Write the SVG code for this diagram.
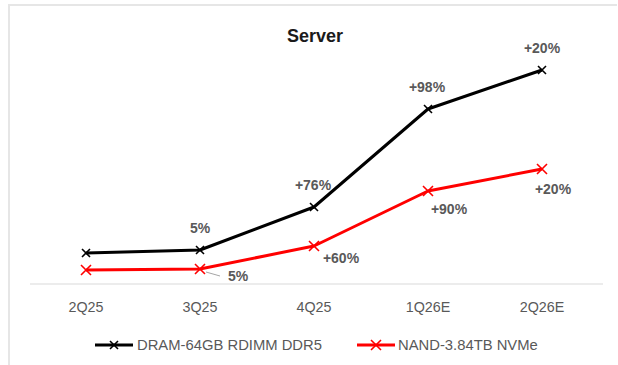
<svg xmlns="http://www.w3.org/2000/svg" width="618" height="365" viewBox="0 0 618 365">
<style>
.frame{fill:none;stroke:#e6e6e6;stroke-width:2}
.axis{stroke:#d9d9d9;stroke-width:1.2}
.cat{font-family:"Liberation Sans",Arial,sans-serif;font-size:14.3px;fill:#595959;text-anchor:middle}
.lbl{font-family:"Liberation Sans",Arial,sans-serif;font-size:14px;font-weight:bold;fill:#595959;text-anchor:middle}
.leg{font-family:"Liberation Sans",Arial,sans-serif;font-size:14.8px;fill:#595959}
.title{font-family:"Liberation Sans",Arial,sans-serif;font-size:18px;font-weight:bold;fill:#1a1a1a;text-anchor:middle}
.dram{fill:none;stroke:#000;stroke-width:3;stroke-linejoin:round}
.nand{fill:none;stroke:#ff0000;stroke-width:3;stroke-linejoin:round}
</style>
<defs>
<marker id="xk" viewBox="-5 -5 10 10" markerWidth="10" markerHeight="10" refX="0" refY="0" markerUnits="userSpaceOnUse">
<path d="M-4,-4L4,4M-4,4L4,-4" stroke="#000" stroke-width="1.6" fill="none"/>
</marker>
<marker id="xr" viewBox="-6 -6 12 12" markerWidth="12" markerHeight="12" refX="0" refY="0" markerUnits="userSpaceOnUse">
<path d="M-5,-5L5,5M-5,5L5,-5" stroke="#ff0000" stroke-width="1.6" fill="none"/>
</marker>
</defs>
<rect width="618" height="365" fill="#ffffff"/>
<path class="frame" d="M9,365V5H617"/>
<text class="title" x="315" y="42">Server</text>
<line class="axis" x1="30" y1="284" x2="603" y2="284"/>
<g id="categories">
<text class="cat" x="86" y="312">2Q25</text>
<text class="cat" x="200" y="312">3Q25</text>
<text class="cat" x="314" y="312">4Q25</text>
<text class="cat" x="428" y="312">1Q26E</text>
<text class="cat" x="542" y="312">2Q26E</text>
</g>
<g id="connectors">
<polyline id="dram-line" class="dram" points="86,253 200,250 314,207 428,109 542,70" marker-start="url(#xk)" marker-mid="url(#xk)" marker-end="url(#xk)"/>
<polyline id="nand-line" class="nand" points="86,270 200,269 314,246 428,191 542,169" marker-start="url(#xr)" marker-mid="url(#xr)" marker-end="url(#xr)"/>
<line x1="206" y1="272" x2="220" y2="276" stroke="#a6a6a6" stroke-width="1"/>
</g>
<g id="dram-labels">
<text class="lbl" x="200" y="233">5%</text>
<text class="lbl" x="313" y="190">+76%</text>
<text class="lbl" x="427" y="92">+98%</text>
<text class="lbl" x="542" y="53">+20%</text>
</g>
<g id="nand-labels">
<text class="lbl" x="238" y="281">5%</text>
<text class="lbl" x="341" y="263">+60%</text>
<text class="lbl" x="449" y="214">+90%</text>
<text class="lbl" x="553" y="194">+20%</text>
</g>
<g id="legend-dram">
<line class="dram" x1="95" y1="345" x2="133" y2="345"/>
<path d="M110,341L118,349M110,349L118,341" stroke="#000" stroke-width="1.6"/>
<text class="leg" x="137" y="350">DRAM-64GB RDIMM DDR5</text>
</g>
<g id="legend-nand">
<line class="nand" x1="357" y1="345" x2="395" y2="345"/>
<path d="M371,340L381,350M371,350L381,340" stroke="#ff0000" stroke-width="1.6"/>
<text class="leg" x="398" y="350">NAND-3.84TB NVMe</text>
</g>
</svg>
